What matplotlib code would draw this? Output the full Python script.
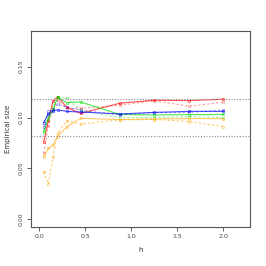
import matplotlib
matplotlib.use("Agg")
import matplotlib.pyplot as plt

# --- Data ---
h = [0.05, 0.1, 0.15, 0.2, 0.3, 0.45, 0.875, 1.25, 1.625, 2.0]

red_solid = [0.076, 0.097, 0.116, 0.1205, 0.110, 0.104, 0.114, 0.117, 0.1166, 0.118]
red_dash = [0.065, 0.092, 0.108, 0.117, 0.109, 0.109, 0.112, 0.1166, 0.111, 0.115]
green_solid = [0.086, 0.099, 0.107, 0.120, 0.1146, 0.1152, 0.103, 0.1025, 0.1028, 0.103]
green_dash = [0.088, 0.102, 0.110, 0.1205, 0.119, 0.107, 0.100, 0.0999, 0.1008, 0.100]
blue_solid = [0.095, 0.1035, 0.1067, 0.1074, 0.106, 0.1054, 0.1035, 0.105, 0.106, 0.106]
blue_dash = [0.091, 0.1067, 0.107, 0.1133, 0.110, 0.1074, 0.1025, 0.1048, 0.105, 0.1074]
orange_solid = [0.0615, 0.0697, 0.073, 0.0812, 0.091, 0.0992, 0.098, 0.0985, 0.0989, 0.0989]
orange_dash = [0.0468, 0.0347, 0.0615, 0.0845, 0.097, 0.0936, 0.0976, 0.098, 0.096, 0.091]

bounds = [0.0815, 0.1185]

# --- Plot ---
fig = plt.figure(figsize=(2.66, 2.66), dpi=100)
ax = fig.add_axes([0.1165, 0.148, 0.8235, 0.737])

series = [
    (red_solid, "#FF0000", "-", 0.7),
    (red_dash, "#FF0000", (0, (2, 2)), 0.4),
    (green_solid, "#00DD00", "-", 0.7),
    (green_dash, "#00DD00", (0, (2, 2)), 0.4),
    (blue_solid, "#0000FF", "-", 0.7),
    (blue_dash, "#0000FF", (0, (2, 2)), 0.4),
    (orange_solid, "#FFA500", "-", 0.6),
    (orange_dash, "#FFA500", (0, (2, 2)), 0.6),
]
for y, col, ls, a in series:
    ax.plot(h, y, linestyle=ls, color=col, alpha=a, linewidth=0.8,
            marker="s", markersize=1.8, markeredgewidth=0.5, markerfacecolor="none")

for b in bounds:
    ax.axhline(b, color="#888888", linestyle=(0, (1, 1.5)), linewidth=0.8)

ax.set_xlim(-0.088, 2.288)
ax.set_ylim(-0.0071, 0.1853)
ax.set_xticks([0.0, 0.5, 1.0, 1.5, 2.0])
ax.set_yticks([0.00, 0.05, 0.10, 0.15])
ax.set_yticklabels(["0.00", "0.05", "0.10", "0.15"], rotation=90, va="center")
ax.tick_params(labelsize=4.5, length=3, width=0.6, colors="#444444", pad=2)
for s in ax.spines.values():
    s.set_color("#555555")
    s.set_linewidth(0.8)

ax.set_xlabel("h", fontsize=5, color="#333333", labelpad=6)
ax.set_ylabel("Empirical size", fontsize=5, color="#333333", labelpad=6)

fig.savefig("out.png", dpi=100)
